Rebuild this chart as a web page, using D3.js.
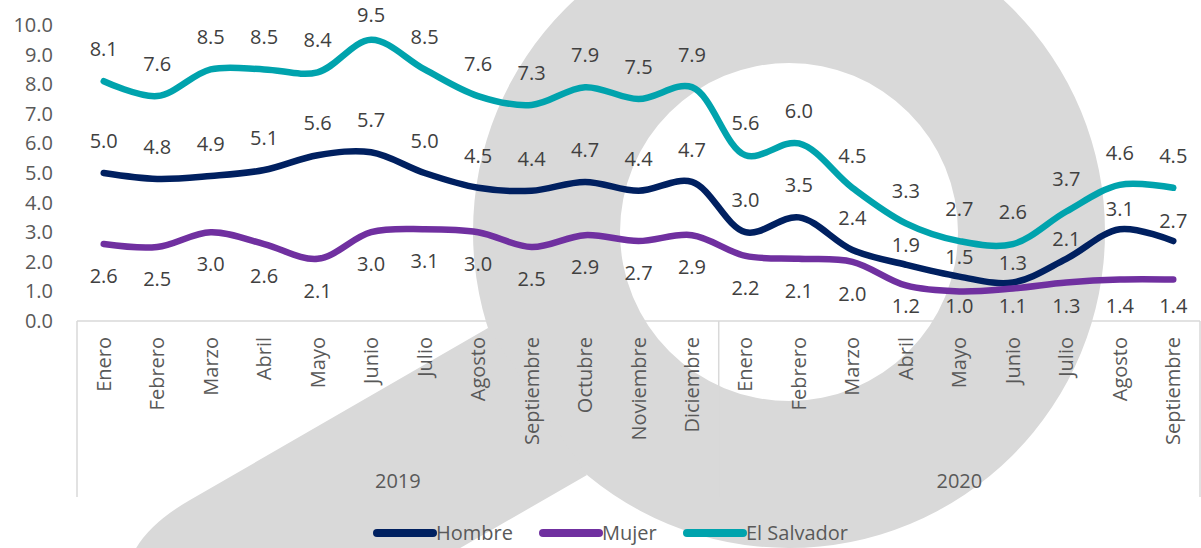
<!DOCTYPE html>
<html lang="es">
<head>
    <meta charset="UTF-8">
    <title>Hombre / Mujer / El Salvador</title>
    <script src="https://d3js.org/d3.v7.min.js"></script>
    <style>
        body { margin: 0; background: #fff; }
        text { font-family: "Open Sans", sans-serif; }
    </style>
</head>
<body>
<script>
    // datos
    var meses = ["Enero", "Febrero", "Marzo", "Abril", "Mayo", "Junio", "Julio", "Agosto",
        "Septiembre", "Octubre", "Noviembre", "Diciembre",
        "Enero", "Febrero", "Marzo", "Abril", "Mayo", "Junio", "Julio", "Agosto", "Septiembre"];
    var anios = [{ label: "2019", from: 0, to: 12 }, { label: "2020", from: 12, to: 21 }];
    var hombre = [5.0, 4.8, 4.9, 5.1, 5.6, 5.7, 5.0, 4.5, 4.4, 4.7, 4.4, 4.7,
        3.0, 3.5, 2.4, 1.9, 1.5, 1.3, 2.1, 3.1, 2.7];
    var mujer = [2.6, 2.5, 3.0, 2.6, 2.1, 3.0, 3.1, 3.0, 2.5, 2.9, 2.7, 2.9,
        2.2, 2.1, 2.0, 1.2, 1.0, 1.1, 1.3, 1.4, 1.4];
    var elSalvador = [8.1, 7.6, 8.5, 8.5, 8.4, 9.5, 8.5, 7.6, 7.3, 7.9, 7.5, 7.9,
        5.6, 6.0, 4.5, 3.3, 2.7, 2.6, 3.7, 4.6, 4.5];
    var yTicks = [0, 1, 2, 3, 4, 5, 6, 7, 8, 9, 10];

    var series = [
        { name: "Hombre", values: hombre, color: "#002060", pos: "above" },
        { name: "Mujer", values: mujer, color: "#7030A0", pos: "below" },
        { name: "El Salvador", values: elSalvador, color: "#00A3AD", pos: "above" }
    ];

    var width = 1201, height = 548;
    var plotLeft = 77, plotRight = 1200, plotBottom = 321, plotTop = 25;

    var svg = d3.select("body").append("svg")
        .attr("width", width)
        .attr("height", height);

    // marca de agua (anillo + mango)
    var cx = 789, cy = 232, rOut = 316, rIn = 169;
    var wm = svg.append("g").attr("fill", "#d9d9d9");
    wm.append("path")
        .attr("fill-rule", "evenodd")
        .attr("d", "M" + (cx + rOut) + "," + cy + "A" + rOut + "," + rOut + " 0 1,0 " + (cx - rOut) + "," + cy +
            "A" + rOut + "," + rOut + " 0 1,0 " + (cx + rOut) + "," + cy + "Z" +
            "M" + (cx + rIn) + "," + cy + "A" + rIn + "," + rIn + " 0 1,0 " + (cx - rIn) + "," + cy +
            "A" + rIn + "," + rIn + " 0 1,0 " + (cx + rIn) + "," + cy + "Z");
    wm.append("path")
        .attr("d", "M488,328 L190,500 Q150,523 135,550 L150,640 L238,676 L587,475 Z");

    var x = d3.scaleBand().domain(d3.range(meses.length)).range([plotLeft, plotRight]);
    var y = d3.scaleLinear().domain([0, 10]).range([plotBottom, plotTop]);
    var cxOf = function (i) { return x(i) + x.bandwidth() / 2; };

    // eje y (solo etiquetas)
    var yAxis = d3.axisLeft(y).tickValues(yTicks).tickFormat(d3.format(".1f")).tickSize(0).tickPadding(0);
    var gy = svg.append("g").attr("transform", "translate(53,0)").call(yAxis);
    gy.select(".domain").remove();
    gy.selectAll("text").attr("font-size", 20).attr("fill", "#595959")
        .attr("font-family", "Open Sans, sans-serif");

    // eje x
    var axisColor = "#d9d9d9";
    svg.append("line").attr("x1", plotLeft).attr("x2", plotRight).attr("y1", plotBottom).attr("y2", plotBottom)
        .attr("stroke", axisColor).attr("stroke-width", 1.5);
    var sepX = function (d) { return d < meses.length ? x(d) : plotRight; };
    var seps = [0, 12, 21];
    svg.selectAll("line.sep").data(seps).enter().append("line")
        .attr("class", "sep")
        .attr("x1", sepX).attr("x2", sepX)
        .attr("y1", plotBottom).attr("y2", 497)
        .attr("stroke", axisColor).attr("stroke-width", 1.5);

    svg.selectAll("text.mes").data(meses).enter().append("text")
        .attr("class", "mes")
        .attr("transform", function (d, i) { return "translate(" + (cxOf(i) + 7) + ",337) rotate(-90)"; })
        .attr("text-anchor", "end")
        .attr("font-size", 20).attr("fill", "#595959")
        .text(function (d) { return d; });

    svg.selectAll("text.anio").data(anios).enter().append("text")
        .attr("class", "anio")
        .attr("x", function (d) { return (sepX(d.from) + sepX(d.to)) / 2; })
        .attr("y", 488)
        .attr("text-anchor", "middle")
        .attr("font-size", 20).attr("fill", "#595959")
        .text(function (d) { return d.label; });

    // líneas
    var line = d3.line()
        .x(function (d, i) { return cxOf(i); })
        .y(function (d) { return y(d); })
        .curve(d3.curveCatmullRom.alpha(0.5));

    svg.selectAll("path.serie").data(series).enter().append("path")
        .attr("class", "serie")
        .attr("d", function (d) { return line(d.values); })
        .attr("fill", "none")
        .attr("stroke", function (d) { return d.color; })
        .attr("stroke-width", 6.5)
        .attr("stroke-linecap", "round")
        .attr("stroke-linejoin", "round");

    // etiquetas de datos
    series.forEach(function (s) {
        svg.selectAll(null).data(s.values).enter().append("text")
            .attr("x", function (d, i) { return cxOf(i); })
            .attr("y", function (d, i) {
                var py = y(d);
                if (s.pos === "below") return Math.min(py + 32, 306);
                var off = (s.name === "Hombre" && i >= 15) ? 20 : 32;
                return Math.max(py - off, 15);
            })
            .attr("dy", "0.35em")
            .attr("text-anchor", "middle")
            .attr("font-size", 20).attr("fill", "#404040")
            .text(function (d) { return d.toFixed(1); });
    });

    // leyenda
    var legendX = [377, 543, 687];
    var lg = svg.selectAll("g.leg").data(series).enter().append("g")
        .attr("class", "leg")
        .attr("transform", function (d, i) { return "translate(" + legendX[i] + ",533)"; });
    lg.append("line").attr("x1", 0).attr("x2", 56).attr("y1", 0).attr("y2", 0)
        .attr("stroke", function (d) { return d.color; })
        .attr("stroke-width", 8).attr("stroke-linecap", "round");
    lg.append("text").attr("x", 59).attr("dy", "0.35em")
        .attr("font-size", 20).attr("fill", "#595959")
        .text(function (d) { return d.name; });
</script>
</body>
</html>
